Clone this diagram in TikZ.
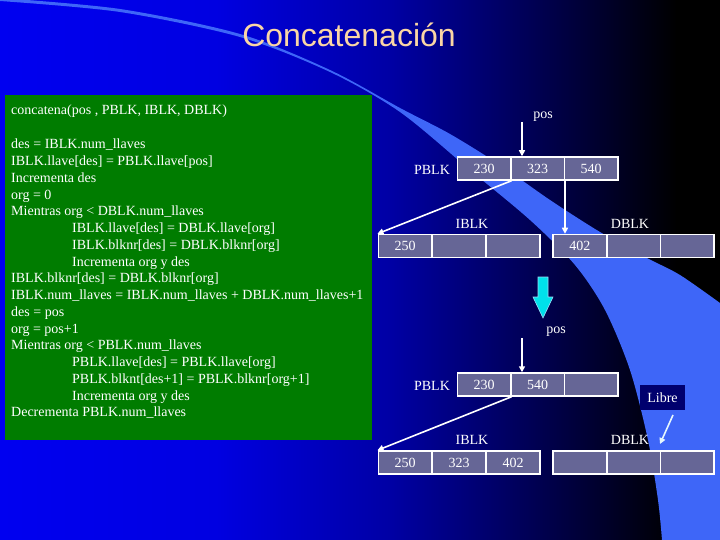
\documentclass[tikz,border=0pt]{standalone}
\usepackage{fontspec}
\setmainfont{Liberation Serif}
\newfontfamily\titlefont{Liberation Sans}
\definecolor{bgA}{RGB}{0,0,240}
\definecolor{bgB}{RGB}{0,0,225}
\definecolor{bgC}{RGB}{0,0,165}
\definecolor{bgD}{RGB}{0,0,75}
\definecolor{swoosh}{RGB}{62,102,248}
\definecolor{codegreen}{RGB}{0,124,0}
\definecolor{cellgray}{RGB}{102,102,150}
\definecolor{titlepeach}{RGB}{250,214,165}
\definecolor{arrowcyan}{RGB}{0,225,235}
\definecolor{libreblue}{RGB}{0,0,110}
\usetikzlibrary{arrows.meta,positioning,calc}
% only the 25bp--75bp part of the shading is stretched over the picture
\pgfdeclarehorizontalshading{slidebg}{100bp}{color(0bp)=(bgA); color(25bp)=(bgA); color(40bp)=(bgB); color(52bp)=(bgC); color(63bp)=(bgD); color(72bp)=(black); color(100bp)=(black)}

\begin{document}
\begin{tikzpicture}[x=1pt,y=-1pt,
  cell/.style={draw=white,line width=1.5pt,fill=cellgray,minimum width=53.5pt,minimum height=23pt,inner sep=0pt,text=white,font=\fontsize{14}{16}\selectfont},
  lbl/.style={text=white,font=\fontsize{14}{16}\selectfont,inner sep=0pt},
  arr/.style={-{Triangle[length=6pt,width=6pt]},line width=1.6pt,white},
  code/.style={text=white,align=left,anchor=north west,inner sep=0pt,font=\fontsize{14}{16.75}\selectfont}]
  \useasboundingbox (0,0) rectangle (720,540);
  % Background
  \shade[shading=slidebg] (0,0) rectangle (720,540);
  \fill[swoosh] plot[smooth] coordinates {(0,1) (120,12) (240,37) (330,72) (400,112) (470,170) (530,220) (575,265) (605,310) (630,370) (648,440) (658,500) (662,540)}
    -- (720,540) -- (720,303)
    -- plot[smooth] coordinates {(720,303) (680,275) (647,258) (600,232) (550,200) (500,165) (450,134) (400,108) (330,70) (240,34) (120,9) (0,-2)} -- cycle;
  % Title
  \node[text=titlepeach,font=\titlefont\fontsize{32}{36}\selectfont,inner sep=0pt] (title) at (349,35) {Concatenación};
  % Code panel
  \fill[codegreen] (5,95) rectangle (372,440);
  \node[code] (sig) at (11,105) {concatena(pos , PBLK, IBLK, DBLK)};
  \node[code] (body) at (11,139) {des = IBLK.num\_llaves\\
  IBLK.llave[des] = PBLK.llave[pos]\\
  Incrementa des\\
  org = 0\\
  Mientras org < DBLK.num\_llaves\\
  \hspace*{61pt}IBLK.llave[des] = DBLK.llave[org]\\
  \hspace*{61pt}IBLK.blknr[des] = DBLK.blknr[org]\\
  \hspace*{61pt}Incrementa org y des\\
  IBLK.blknr[des] = DBLK.blknr[org]\\
  IBLK.num\_llaves = IBLK.num\_llaves + DBLK.num\_llaves+1\\
  des = pos\\
  org = pos+1\\
  Mientras org < PBLK.num\_llaves\\
  \hspace*{61pt}PBLK.llave[des] = PBLK.llave[org]\\
  \hspace*{61pt}PBLK.blknt[des+1] = PBLK.blknr[org+1]\\
  \hspace*{61pt}Incrementa org y des\\
  Decrementa PBLK.num\_llaves};
  % Before
  \node[lbl] (posA) at (543,117) {pos};
  \coordinate (posAtail) at (522,122);
  \node[lbl] (pblkA) at (432,170) {PBLK};
  \foreach \v [count=\i] in {230,323,540}
    \node[cell] (pa\i) at ({457.25+53.5*(\i-0.5)},168.5) {\v};
  \node[lbl] (iblkA) at (472,224) {IBLK};
  \node[lbl] (dblkA) at (630,224) {DBLK};
  \foreach \v [count=\i] in {250,{},{}}
    \node[cell] (ia\i) at ({378+54*(\i-0.5)},246) {\v};
  \foreach \v [count=\i] in {402,{},{}}
    \node[cell] (da\i) at ({553+53.7*(\i-0.5)},246) {\v};
  \draw[arr] (posAtail) -- (posAtail |- pa2.north);
  \draw[arr] (pa1.south east) -- (ia1.north west);
  \draw[arr] (pa2.south east) -- (pa2.south east |- da1.north);
  % Step arrow
  \draw[fill=arrowcyan,draw=cyan!40,line width=0.6pt] (538,277) -- (548,277) -- (548,297) -- (553,297) -- (543,318) -- (533,297) -- (538,297) -- cycle;
  % After
  \node[lbl] (posB) at (556,332) {pos};
  \coordinate (posBtail) at (522,338);
  \node[lbl] (pblkB) at (432,386) {PBLK};
  \foreach \v [count=\i] in {230,540,{}}
    \node[cell] (pb\i) at ({457.25+53.5*(\i-0.5)},384.5) {\v};
  \node[lbl] (iblkB) at (472,440) {IBLK};
  \node[lbl] (dblkB) at (630,440) {DBLK};
  \foreach \v [count=\i] in {250,323,402}
    \node[cell] (ib\i) at ({378+54*(\i-0.5)},462.5) {\v};
  \foreach \v [count=\i] in {{},{},{}}
    \node[cell] (db\i) at ({553+53.7*(\i-0.5)},462.5) {\v};
  \draw[arr] (posBtail) -- (posBtail |- pb2.north);
  \draw[arr] (pb1.south east) -- (ib1.north west);
  % Free slot
  \node[lbl,fill=libreblue,minimum width=45pt,minimum height=25pt] (libre) at (662.5,397.5) {Libre};
  \coordinate (libreTip) at (660,444);
  \draw[arr,white!90!cyan] (673,415) -- (libreTip);
\end{tikzpicture}
\end{document}
